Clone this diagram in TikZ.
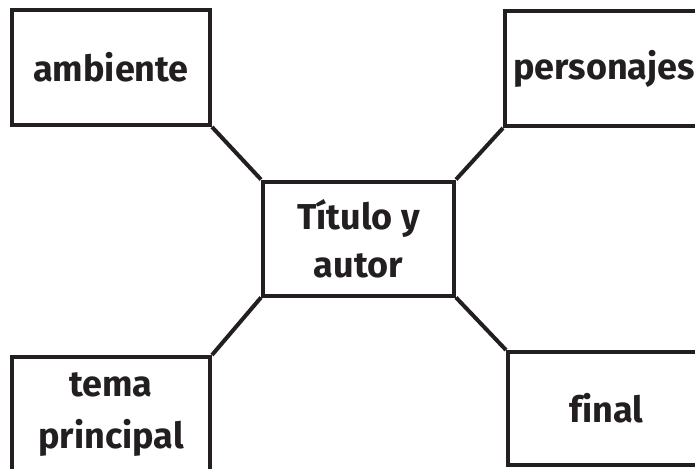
\documentclass[tikz,border=0pt]{standalone}
\usepackage{fontspec}
\setmainfont[Ligatures=NoCommon]{Fira Sans}
\definecolor{ink}{HTML}{231F20}
\tikzset{caja/.style={draw=ink,line width=4pt,rectangle,inner sep=0pt,align=center,text=ink,font=\bfseries\fontsize{36}{48}\selectfont}}
\begin{document}
\begin{tikzpicture}[x=1pt,y=-1pt]
\path[use as bounding box] (0,0) rectangle (695,468);
\clip (0,0) rectangle (695,468);
\node[caja,minimum width=198pt,minimum height=115pt] (amb) at (111,67.5){ambiente};
\node[caja,minimum width=198pt,minimum height=115pt] (pers) at (604,68.5){personajes};
\node[caja,minimum width=191pt,minimum height=114pt] (tit) at (358.5,238.5){Título y\\autor};
\node[caja,minimum width=198pt,minimum height=115pt,font=\bfseries\fontsize{36}{52}\selectfont] (tema) at (111,414.5){tema\\principal};
\node[caja,minimum width=197pt,minimum height=113pt] (fin) at (606.5,408.5){final};
\draw[ink,line width=4pt] (amb.south east)--(tit.north west);
\draw[ink,line width=4pt] (pers.south west)--(tit.north east);
\draw[ink,line width=4pt] (tema.north east)--(tit.south west);
\draw[ink,line width=4pt] (fin.north west)--(tit.south east);
\end{tikzpicture}
\end{document}
